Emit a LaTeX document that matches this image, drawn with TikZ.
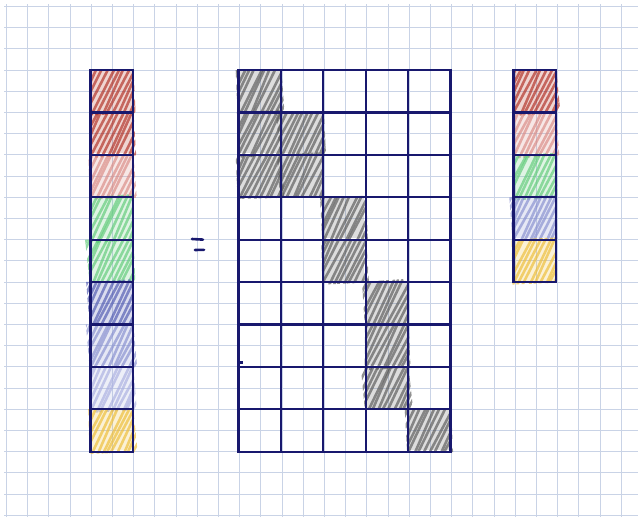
\documentclass[tikz,border=0pt]{standalone}
\usetikzlibrary{positioning}
\definecolor{ink}{HTML}{18186E}
\definecolor{paper}{HTML}{C9D3E6}
\definecolor{dred}{HTML}{B02E22}
\definecolor{lred}{HTML}{D98A84}
\definecolor{grn}{HTML}{5FCB78}
\definecolor{dblu}{HTML}{4E58B0}
\definecolor{mblu}{HTML}{868ECF}
\definecolor{lblu}{HTML}{A9AFE0}
\definecolor{ylw}{HTML}{EDBD35}
\definecolor{pencil}{HTML}{585858}
\tikzset{
  gridline/.style={paper, line width=1.2pt},
  cellbox/.style={ink, line width=2.2pt},
  stroke/.style={line width=2.6pt, line cap=round, opacity=.66},
}
% one hand-hatched cell, top left corner at (#1,#2)
\newcommand{\hatchcell}[3]{%
  \begin{scope}[shift={({#1},{#2})}]
    \fill[#3, opacity=.2] (1,1) rectangle (41,41);
    \begin{scope}
      \pgfmathsetmacro{\ca}{rand*2.5}
      \pgfmathsetmacro{\cb}{rand*2.5}
      \clip ({-3+\ca},0) -- (43,{-1+\cb}) -- ({45+\cb},43) -- (-1,{44+\ca}) -- cycle;
      \foreach \k in {-5,...,8}{
        \pgfmathsetmacro{\ja}{rand*2}
        \pgfmathsetmacro{\jb}{rand*2}
        \draw[stroke, #3] ({\k*5.2+\ja},45) -- ({\k*5.2+23+\jb},-2);
      }
    \end{scope}
  \end{scope}}
\begin{document}
\begin{tikzpicture}[x=1pt, y=-1pt]
\useasboundingbox (0,0) rectangle (638,517);
\pgfmathsetseed{11}
\fill[white] (0,0) rectangle (638,517);
% paper
\foreach \i in {0,...,29}
  \draw[gridline] ({6.5+round(21.2*\i)},4) -- ({6.5+round(21.2*\i)},517);
\foreach \j in {0,...,24}
  \draw[gridline] (4,{6.5+round(21.2*\j)}) -- (638,{6.5+round(21.2*\j)});

% left vector
\foreach \i/\c in {1/dred,2/dred,3/lred,4/grn,5/grn,6/dblu,7/mblu,8/lblu,9/ylw}
  \hatchcell{90.5}{70+42.4*(\i-1)}{\c};
% matrix
\foreach \r/\s in {1/1,2/1,2/2,3/1,3/2,4/3,5/3,6/4,7/4,8/4,9/5}
  \hatchcell{238.5+42.4*(\s-1)}{70+42.4*(\r-1)}{pencil};
% right vector
\foreach \i/\c in {1/dred,2/lred,3/grn,4/mblu,5/ylw}
  \hatchcell{513.5}{70+42.4*(\i-1)}{\c};

% outlines
\draw[cellbox] (90.5,70) rectangle (132.9,451.6);
\foreach \i in {1,...,8}
  \draw[cellbox] (90.5,{70+42.4*\i}) -- (132.9,{70+42.4*\i});
\draw[cellbox] (238.5,70) rectangle (450.5,451.6);
\foreach \i in {1,...,8}
  \draw[cellbox] (238.5,{70+42.4*\i}) -- (450.5,{70+42.4*\i});
\foreach \s in {1,...,4}
  \draw[cellbox] ({238.5+42.4*\s},70) -- ({238.5+42.4*\s},451.6);
\draw[cellbox] (513.5,70) rectangle (555.9,282);
\foreach \i in {1,...,4}
  \draw[cellbox] (513.5,{70+42.4*\i}) -- (555.9,{70+42.4*\i});

% equals sign and stray dot
\draw[ink, line width=2.6pt, line cap=round] (192,239) -- (203,239.6);
\draw[ink, line width=2.6pt, line cap=round] (195,250) -- (204,249.8);
\fill[ink] (240,361) rectangle (242.5,363.5);
\end{tikzpicture}
\end{document}
